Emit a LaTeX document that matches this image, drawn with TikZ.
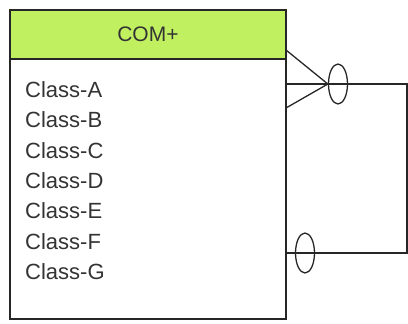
\documentclass[tikz,border=0pt]{standalone}
\usepackage{fontspec}
\setmainfont{Liberation Sans}
\usetikzlibrary{shapes.geometric}
\definecolor{headgreen}{RGB}{192,240,96}
\begin{document}
\begin{tikzpicture}[x=1pt,y=-1pt,
  boxline/.style={draw=black!85, line width=1.8pt},
  link/.style={draw=black!85, line width=1.3pt},
  member/.style={anchor=west, inner sep=0pt, font=\fontsize{22}{22}\selectfont, text=black!80},
  ring/.style={link, ellipse, minimum width=19pt, minimum height=40pt, inner sep=0pt}]
\useasboundingbox (0,0) rectangle (408,324);
% class box: header and member list
\node[boxline, fill=headgreen, anchor=north west, minimum width=276pt, minimum height=49pt,
      inner sep=0pt, font=\fontsize{21}{21}\selectfont, text=black!80] (head) at (9,9) {COM+};
\node[boxline, anchor=north west, minimum width=276pt, minimum height=260pt, inner sep=0pt] (body) at (9,58) {};
\node[member] (ca) at (25,90)  {Class-A};
\node[member] (cb) at (25,120) {Class-B};
\node[member] (cc) at (25,151) {Class-C};
\node[member] (cd) at (25,181) {Class-D};
\node[member] (ce) at (25,211) {Class-E};
\node[member] (cf) at (25,242) {Class-F};
\node[member] (cg) at (25,272) {Class-G};
% self relationship: crow's foot with ring above, single ring below
\node[ring] (o1) at (338,84) {};
\node[ring] (o2) at (305,253) {};
\coordinate (t1) at (286,50);
\coordinate (t2) at (286,108);
\coordinate (r1) at (407,84);
\coordinate (r2) at (407,253);
\draw[link] (body.east |- o1) -- (r1) -- (r2) -- (body.east |- o2);
\draw[link] (t1) -- (o1.west) -- (t2);
\end{tikzpicture}
\end{document}
